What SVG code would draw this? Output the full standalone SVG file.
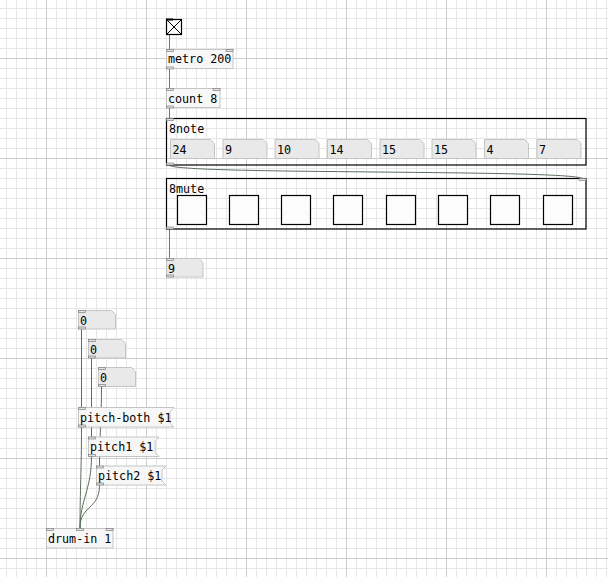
<svg xmlns="http://www.w3.org/2000/svg" width="608" height="577" viewBox="0 0 608 577">
<defs>
<pattern id="minor" x="6" y="8" width="10" height="10" patternUnits="userSpaceOnUse">
<rect x="0" y="0" width="1" height="10" fill="#e6e6e6"/>
<rect x="0" y="0" width="10" height="1" fill="#e6e6e6"/>
</pattern>
<pattern id="major" x="46" y="58" width="100" height="100" patternUnits="userSpaceOnUse">
<rect x="0" y="0" width="1" height="100" fill="#cdcdcd"/>
<rect x="0" y="0" width="100" height="1" fill="#cdcdcd"/>
</pattern>
</defs>
<style>
text{font-family:"DejaVu Sans Mono","Liberation Mono",monospace;font-size:11.7px;fill:#000}
.obj{fill:#f7f7f7;stroke:#c4c4c4;stroke-width:1}
.num{fill:#e9e9e9;stroke:#c4c4c4;stroke-width:1}
.msg{fill:#f7f7f7;stroke:#c4c4c4;stroke-width:1}
.io{fill:#e2e2e2;stroke:#808080;stroke-width:0.7}
.gop{fill:none;stroke:#000;stroke-width:1.2}
.tgl{fill:#fcfcfc;stroke:#000;stroke-width:1.2}
.cord{fill:none;stroke:#5e6e5e;stroke-width:1}
.cordg{fill:none;stroke:#777;stroke-width:1}
</style>
<rect width="608" height="577" fill="#fff"/>
<rect width="608" height="577" fill="url(#minor)"/>
<rect width="608" height="577" fill="url(#major)"/>

<g id="connectors">
<path class="cordg" d="M169.5 35 V49"/>
<path class="cordg" d="M169.5 69 V88"/>
<path class="cordg" d="M169.5 108 V118"/>
<path class="cord" d="M169.5 165 C169.5 175 582.5 169 582.5 179"/>
<path class="cordg" d="M169.5 229 V258"/>
<path class="cord" d="M81.5 329 V407"/>
<path class="cord" d="M91.5 358 V437"/>
<path class="cord" d="M101.5 387 C101.5 420 99.5 435 99.5 466"/>
<path class="cord" d="M81.5 427 C81.5 470 80 490 80 528"/>
<path class="cord" d="M91.5 456 C91.5 490 80 500 80 528"/>
<path class="cord" d="M99.5 485 C99.5 510 80 505 80 528"/>
</g>

<g id="toggle-main">
<rect class="tgl" x="166.5" y="19.5" width="15" height="15"/>
<path d="M167 20 L181 34 M181 20 L167 34" stroke="#000" stroke-width="1"/>
<rect x="166" y="18.5" width="7" height="2" fill="#000"/>
</g>

<g id="metro">
<rect class="obj" x="166.5" y="49.5" width="66.5" height="19"/>
<rect class="io" x="166.5" y="49.5" width="7" height="2"/>
<rect class="io" x="226" y="49.5" width="7" height="2"/>
<rect class="io" x="166.5" y="67" width="7" height="2"/>
<text x="168" y="63">metro 200</text>
</g>

<g id="count">
<rect class="obj" x="166.5" y="88.5" width="53.5" height="19"/>
<rect class="io" x="166.5" y="88.5" width="7" height="2"/>
<rect class="io" x="213" y="88.5" width="7" height="2"/>
<rect class="io" x="166.5" y="106" width="7" height="2"/>
<text x="168" y="102.5">count 8</text>
</g>

<g id="note8">
<rect class="gop" x="166.5" y="118.5" width="419.5" height="46.5"/>
<rect class="io" x="166.5" y="118.5" width="7" height="2"/>
<rect class="io" x="166.5" y="163" width="7" height="2"/>
<text x="169" y="133">8note</text>
<path class="num" d="M170.5 139.5 H210.5 L214.5 143.5 V158.5 H170.5 Z"/>
<text x="172.5" y="153.5">24</text>
<path class="num" d="M223 139.5 H263 L267 143.5 V158.5 H223 Z"/>
<text x="225" y="153.5">9</text>
<path class="num" d="M275 139.5 H315 L319 143.5 V158.5 H275 Z"/>
<text x="277" y="153.5">10</text>
<path class="num" d="M327.5 139.5 H367.5 L371.5 143.5 V158.5 H327.5 Z"/>
<text x="329.5" y="153.5">14</text>
<path class="num" d="M380 139.5 H420 L424 143.5 V158.5 H380 Z"/>
<text x="382" y="153.5">15</text>
<path class="num" d="M432 139.5 H472 L476 143.5 V158.5 H432 Z"/>
<text x="434" y="153.5">15</text>
<path class="num" d="M484.5 139.5 H524.5 L528.5 143.5 V158.5 H484.5 Z"/>
<text x="486.5" y="153.5">4</text>
<path class="num" d="M537 139.5 H577 L581 143.5 V158.5 H537 Z"/>
<text x="539" y="153.5">7</text>
</g>

<g id="mute8">
<rect class="gop" x="166.5" y="178.5" width="419.5" height="50.5"/>
<rect class="io" x="579" y="178.5" width="7" height="2"/>
<rect class="io" x="166.5" y="227" width="7" height="2"/>
<text x="169" y="193">8mute</text>
<rect class="tgl" x="177.5" y="195.5" width="29" height="29"/>
<rect class="tgl" x="229.5" y="195.5" width="29" height="29"/>
<rect class="tgl" x="281.5" y="195.5" width="29" height="29"/>
<rect class="tgl" x="333.5" y="195.5" width="29" height="29"/>
<rect class="tgl" x="386.5" y="195.5" width="29" height="29"/>
<rect class="tgl" x="438.5" y="195.5" width="29" height="29"/>
<rect class="tgl" x="490.5" y="195.5" width="29" height="29"/>
<rect class="tgl" x="543.5" y="195.5" width="29" height="29"/>
</g>

<g id="num-out">
<path class="num" d="M166.5 258.5 H199 L203 262.5 V277 H166.5 Z"/>
<rect class="io" x="166.5" y="258.5" width="7" height="2"/>
<rect class="io" x="166.5" y="275" width="7" height="2"/>
<text x="168" y="272.5">9</text>
</g>

<g id="num-a">
<path class="num" d="M78.5 310.5 H111.5 L115.5 314.5 V329 H78.5 Z"/>
<rect class="io" x="78.5" y="310.5" width="7" height="2"/>
<rect class="io" x="78.5" y="327" width="7" height="2"/>
<text x="80" y="324.5">0</text>
</g>

<g id="num-b">
<path class="num" d="M88.5 339.5 H121.5 L125.5 343.5 V358 H88.5 Z"/>
<rect class="io" x="88.5" y="339.5" width="7" height="2"/>
<rect class="io" x="88.5" y="356" width="7" height="2"/>
<text x="90" y="353.5">0</text>
</g>

<g id="num-c">
<path class="num" d="M98.5 367.5 H131.5 L135.5 371.5 V386.5 H98.5 Z"/>
<rect class="io" x="98.5" y="367.5" width="7" height="2"/>
<rect class="io" x="98.5" y="384.5" width="7" height="2"/>
<text x="100" y="381.5">0</text>
</g>

<g id="msg-both">
<path class="msg" d="M78.5 407.5 H174 L170 411.5 V423 L174 427 H78.5 Z"/>
<rect class="io" x="78.5" y="407.5" width="7" height="2"/>
<rect class="io" x="78.5" y="425" width="7" height="2"/>
<text x="80" y="421.5">pitch-both $1</text>
</g>

<g id="msg-p1">
<path class="msg" d="M88.5 437 H159 L155 441 V452.5 L159 456.5 H88.5 Z"/>
<rect class="io" x="88.5" y="437" width="7" height="2"/>
<rect class="io" x="88.5" y="454.5" width="7" height="2"/>
<text x="90" y="451">pitch1 $1</text>
</g>

<g id="msg-p2">
<path class="msg" d="M96.5 466 H166 L162 470 V481 L166 485 H96.5 Z"/>
<rect class="io" x="96.5" y="466" width="7" height="2"/>
<rect class="io" x="96.5" y="483" width="7" height="2"/>
<text x="98" y="480">pitch2 $1</text>
</g>

<g id="drum-in">
<rect class="obj" x="46.5" y="528.5" width="66.5" height="19.5"/>
<rect class="io" x="46.5" y="528.5" width="7" height="2"/>
<rect class="io" x="76.5" y="528.5" width="7" height="2"/>
<rect class="io" x="106" y="528.5" width="7" height="2"/>
<text x="48" y="542.5">drum-in 1</text>
</g>
</svg>
